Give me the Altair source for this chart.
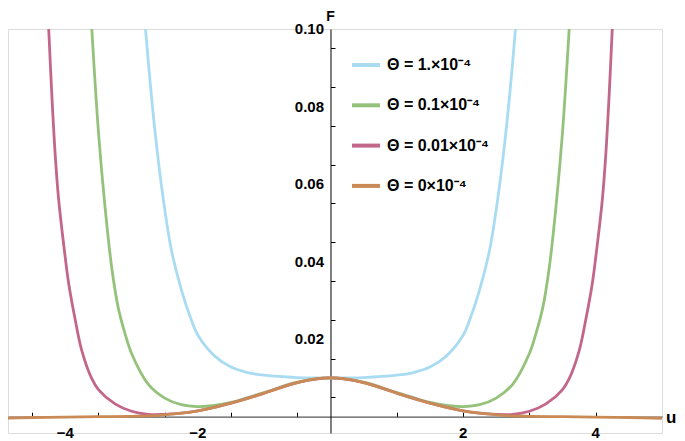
import altair as alt
import pandas as pd

# ---------------- data ----------------
series_labels = ["Θ = 1.×10⁻⁴", "Θ = 0.1×10⁻⁴", "Θ = 0.01×10⁻⁴", "Θ = 0×10⁻⁴"]
series_colors = ["#a9dcf3", "#95c27b", "#c2678a", "#c98a55"]

u_blue = [-2.79, -2.7, -2.6, -2.5, -2.4, -2.25, -2.1, -2.0, -1.75, -1.5, -1.25, -1.0, -0.5, 0.0,
          0.5, 1.0, 1.25, 1.5, 1.75, 2.0, 2.1, 2.25, 2.4, 2.5, 2.6, 2.7, 2.79]
F_blue = [0.1000, 0.0825, 0.0665, 0.0535, 0.0430, 0.0328, 0.0250, 0.0210, 0.0157, 0.0128, 0.0114, 0.0107, 0.0101, 0.0100,
          0.0101, 0.0107, 0.0114, 0.0128, 0.0157, 0.0210, 0.0250, 0.0328, 0.0430, 0.0535, 0.0665, 0.0825, 0.1000]

u_green = [-3.6, -3.5, -3.4, -3.3, -3.2, -3.1, -3.0, -2.75, -2.5, -2.25, -2.0, -1.75, -1.5, -1.25, -1.0, -0.5, 0.0,
           0.5, 1.0, 1.25, 1.5, 1.75, 2.0, 2.25, 2.5, 2.75, 3.0, 3.1, 3.2, 3.3, 3.4, 3.5, 3.6]
F_green = [0.1000, 0.0735, 0.0540, 0.0385, 0.0280, 0.0215, 0.0163, 0.0084, 0.0048, 0.0031, 0.0026, 0.0029, 0.0037, 0.0049, 0.0062, 0.0089, 0.0100,
           0.0089, 0.0062, 0.0049, 0.0037, 0.0029, 0.0026, 0.0031, 0.0048, 0.0084, 0.0163, 0.0215, 0.0280, 0.0385, 0.0540, 0.0735, 0.1000]

u_pink = [-4.25, -4.2, -4.15, -4.1, -4.0, -3.95, -3.85, -3.75, -3.6, -3.5, -3.25, -3.0, -2.75, -2.5, -2.25, -2.0, -1.5, -1.0, -0.5, 0.0,
          0.5, 1.0, 1.5, 2.0, 2.25, 2.5, 2.75, 3.0, 3.25, 3.5, 3.6, 3.75, 3.85, 3.95, 4.0, 4.1, 4.15, 4.2, 4.25]
F_pink = [0.1000, 0.0820, 0.0670, 0.0560, 0.0410, 0.0345, 0.0250, 0.0170, 0.0098, 0.0070, 0.0033, 0.0014, 0.0006, 0.0006, 0.0009, 0.0015, 0.0035, 0.0061, 0.0088, 0.0100,
          0.0088, 0.0061, 0.0035, 0.0015, 0.0009, 0.0006, 0.0006, 0.0014, 0.0033, 0.0070, 0.0098, 0.0170, 0.0250, 0.0345, 0.0410, 0.0560, 0.0670, 0.0820, 0.1000]

u_orange = [-5.0, -4.5, -4.0, -3.5, -3.0, -2.75, -2.5, -2.25, -2.0, -1.75, -1.5, -1.25, -1.0, -0.75, -0.5, -0.25, 0.0,
            0.25, 0.5, 0.75, 1.0, 1.25, 1.5, 1.75, 2.0, 2.25, 2.5, 2.75, 3.0, 3.5, 4.0, 4.5, 5.0]
F_orange = [-0.0004, -0.0002, -0.0001, 0.0000, 0.0001, 0.0002, 0.0005, 0.0009, 0.0015, 0.0024, 0.0035, 0.0047, 0.0061, 0.0075, 0.0088, 0.0097, 0.0100,
            0.0097, 0.0088, 0.0075, 0.0061, 0.0047, 0.0035, 0.0024, 0.0015, 0.0009, 0.0005, 0.0002, 0.0001, 0.0000, -0.0001, -0.0002, -0.0004]

x_major_ticks = [-4, -2, 2, 4]
x_tick_labels = ["−4", "−2", "2", "4"]
x_all_ticks = [-4.5, -4, -3.5, -3, -2.5, -2, -1.5, -1, -0.5, 0.5, 1, 1.5, 2, 2.5, 3, 3.5, 4, 4.5]
y_major_ticks = [0.02, 0.04, 0.06, 0.08, 0.1]
y_tick_labels = ["0.02", "0.04", "0.06", "0.08", "0.10"]
y_all_ticks = [0.005, 0.01, 0.015, 0.02, 0.025, 0.03, 0.035, 0.04, 0.045, 0.05, 0.055, 0.06,
               0.065, 0.07, 0.075, 0.08, 0.085, 0.09, 0.095, 0.1]
axis_titles = ["u", "F"]

# ---------------- layout ----------------
X_MIN, X_MAX = -4.864, 5.0
Y_MIN, Y_MAX = -0.0042, 0.1
W, H = 654, 404
x_zero_px = W * (0 - X_MIN) / (X_MAX - X_MIN)
y_zero_px = H * (Y_MAX - 0) / (Y_MAX - Y_MIN)
FONT = "Liberation Sans"
TICK = 4.5
LINE_INTERP = "catmull-rom"

xscale = alt.Scale(domain=[X_MIN, X_MAX], nice=False, zero=False)
yscale = alt.Scale(domain=[Y_MIN, Y_MAX], nice=False, zero=False)
cscale = alt.Scale(domain=series_labels, range=series_colors)

xaxis = alt.Axis(
    orient="top", offset=-y_zero_px, values=x_all_ticks, title=None, grid=False, labels=False,
    tickSize=TICK, tickColor="black", tickWidth=1,
    domainColor="#555555", domainWidth=1.3,
)
yaxis = alt.Axis(
    orient="right", offset=-(W - x_zero_px), values=y_all_ticks, title=None, grid=False, labels=False,
    tickSize=TICK, tickColor="black", tickWidth=1,
    domainColor="black", domainWidth=1,
)
legend = alt.Legend(
    orient="none", legendX=342, legendY=20, title=None, padding=0,
    symbolType="stroke", symbolSize=784, symbolStrokeWidth=4,
    labelFont=FONT, labelFontWeight="bold", labelFontSize=16, labelColor="black",
    labelOffset=5, rowPadding=16.3, labelLimit=0,
)

series_data = [
    (series_labels[0], u_blue, F_blue),
    (series_labels[1], u_green, F_green),
    (series_labels[2], u_pink, F_pink),
    (series_labels[3], u_orange, F_orange),
]

layers = []
for name, us, fs in series_data:
    df = pd.DataFrame({"u": us, "F": fs, "series": name})
    layers.append(
        alt.Chart(df).mark_line(strokeWidth=2.8, clip=True, interpolate=LINE_INTERP).encode(
            x=alt.X("u:Q", scale=xscale, axis=xaxis),
            y=alt.Y("F:Q", scale=yscale, axis=yaxis),
            color=alt.Color("series:N", scale=cscale, legend=legend),
        )
    )

x_lab = alt.Chart(pd.DataFrame({"v": x_major_ticks, "t": x_tick_labels})).mark_text(
    font=FONT, fontWeight="bold", fontSize=15, align="center", baseline="top", dy=9, color="black"
).encode(x=alt.X("v:Q", scale=xscale, axis=xaxis), y=alt.datum(0.0), text="t:N")

y_lab = alt.Chart(pd.DataFrame({"v": y_major_ticks, "t": y_tick_labels})).mark_text(
    font=FONT, fontWeight="bold", fontSize=15, align="right", baseline="middle", dx=-6.5, color="black"
).encode(x=alt.datum(0.0), y=alt.Y("v:Q", scale=yscale, axis=yaxis), text="t:N")

u_title = alt.Chart(pd.DataFrame({"t": [axis_titles[0]]})).mark_text(
    font=FONT, fontWeight="bold", fontSize=17, align="left", baseline="alphabetic", dx=4, dy=6, color="black"
).encode(x=alt.datum(X_MAX), y=alt.datum(0.0), text="t:N")

F_title = alt.Chart(pd.DataFrame({"t": [axis_titles[1]]})).mark_text(
    font=FONT, fontWeight="bold", fontSize=14, align="center", baseline="alphabetic", color="black"
).encode(x=alt.datum(0.0), y=alt.value(-8), text="t:N")

chart = alt.layer(*layers, x_lab, y_lab, u_title, F_title).properties(
    width=W, height=H,
    autosize=alt.AutoSizeParams(type="none"),
    padding={"left": 0, "top": 21, "right": 15, "bottom": 14},
).configure_view(stroke=None).configure(background="white")

chart.save("out.html", embed_options={"renderer": "svg", "actions": False})
